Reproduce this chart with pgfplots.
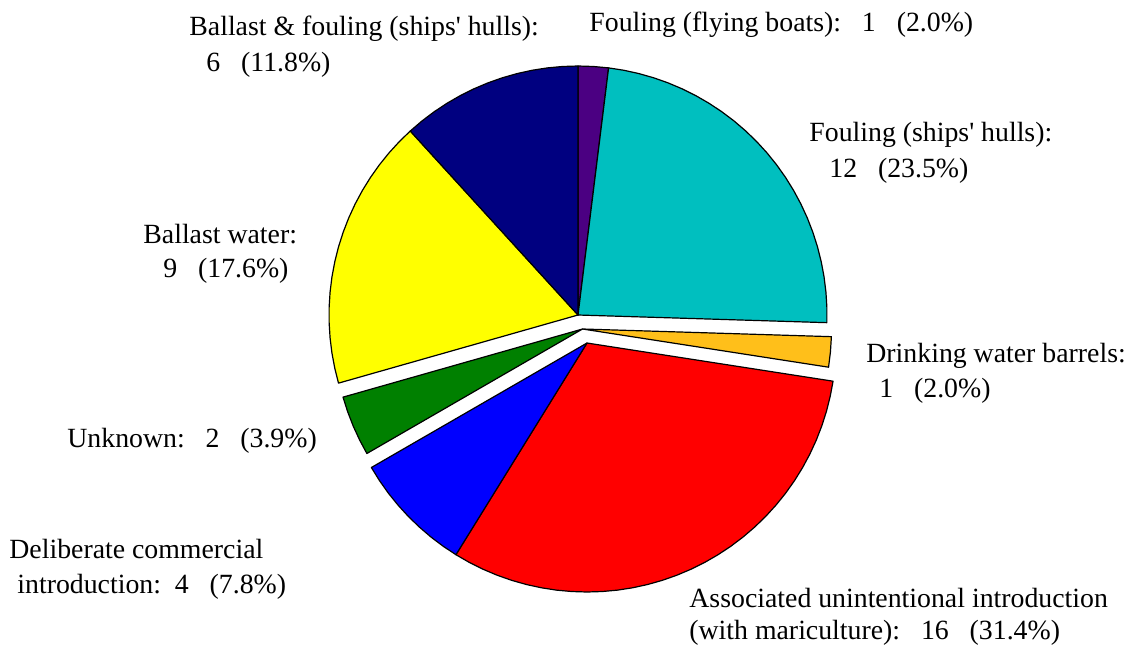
\documentclass[border=0pt]{standalone}
\usepackage{pgfplots}
\pgfplotsset{compat=1.18}
\usepackage{fontspec}
\setmainfont{Liberation Serif}
\definecolor{cPurple}{RGB}{75,0,130}
\definecolor{cCyan}{RGB}{0,191,191}
\definecolor{cOrange}{RGB}{255,191,26}
\definecolor{cRed}{RGB}{255,0,0}
\definecolor{cBlue}{RGB}{0,0,255}
\definecolor{cGreen}{RGB}{0,128,0}
\definecolor{cYellow}{RGB}{255,255,0}
\definecolor{cNavy}{RGB}{0,0,128}
% counts (clockwise from top)
\def\nA{1}  % Fouling (flying boats)
\def\nB{12} % Fouling (ships' hulls)
\def\nC{1}  % Drinking water barrels
\def\nD{16} % Associated unintentional introduction
\def\nE{4}  % Deliberate commercial introduction
\def\nF{2}  % Unknown
\def\nG{9}  % Ballast water
\def\nH{6}  % Ballast & fouling
\pgfmathsetmacro\tot{\nA+\nB+\nC+\nD+\nE+\nF+\nG+\nH}
\pgfmathsetmacro\aO{90}
\pgfmathsetmacro\aA{90-360*(\nA)/\tot}
\pgfmathsetmacro\aB{\aA-360*(\nB)/\tot}
\pgfmathsetmacro\aC{\aB-360*(\nC)/\tot}
\pgfmathsetmacro\aD{\aC-360*(\nD)/\tot}
\pgfmathsetmacro\aE{\aD-360*(\nE)/\tot}
\pgfmathsetmacro\aF{\aE-360*(\nF)/\tot}
\pgfmathsetmacro\aG{\aF-360*(\nG)/\tot}
\pgfmathsetmacro\aH{\aG-360*(\nH)/\tot}
% #1 low angle, #2 high angle, #3 colour, #4 cx, #5 cy, #6 samples
\newcommand\pieslice[6]{%
  \addplot[fill=#3, draw=black, line width=0.6bp, line join=round, domain=#1:#2, samples=#6, variable=\t]
    ({#4+249*cos(\t)},{#5-249*sin(\t)}) -- (axis cs:#4,#5) -- cycle;
}
\newcommand\lab[3]{\node[anchor=base west, inner sep=0pt, font=\fontsize{13.9bp}{16bp}\selectfont] at (axis cs:#1,#2) {#3};}
\newcommand\q{\textquotesingle}
\begin{document}
\begin{tikzpicture}
\begin{axis}[x=0.5bp, y=0.5bp, xmin=0, xmax=1128, ymin=0, ymax=645,
  y dir=reverse, hide axis, clip=false, scale only axis]
\pieslice{\aA}{\aO}{cPurple}{578}{315}{3}
\pieslice{\aB}{\aA}{cCyan}{578}{315}{25}
\pieslice{\aC}{\aB}{cOrange}{582.5}{329}{3}
\pieslice{\aD}{\aC}{cRed}{587}{343}{33}
\pieslice{\aE}{\aD}{cBlue}{587}{343}{9}
\pieslice{\aF}{\aE}{cGreen}{582.5}{329}{5}
\pieslice{\aG}{\aF}{cYellow}{578}{315}{19}
\pieslice{\aH}{\aG}{cNavy}{578}{315}{13}
\lab{589}{32}{Fouling (flying boats):\ \ \ 1\ \ \ (2.0\%)}
\lab{189}{36}{Ballast \& fouling (ships\q\ hulls):}
\lab{206}{72}{6\ \ \ (11.8\%)}
\lab{809}{141}{Fouling (ships\q\ hulls):}
\lab{829}{177}{12\ \ \ (23.5\%)}
\lab{143}{243}{Ballast water:}
\lab{163}{277}{9\ \ \ (17.6\%)}
\lab{866}{362}{Drinking water barrels:}
\lab{879}{397}{1\ \ \ (2.0\%)}
\lab{67}{447}{Unknown:\ \ \ 2\ \ \ (3.9\%)}
\lab{9}{558}{Deliberate commercial}
\lab{17}{593}{introduction:\ \ 4\ \ \ (7.8\%)}
\lab{689}{607}{Associated unintentional introduction}
\lab{689}{639}{(with mariculture):\ \ \ 16\ \ \ (31.4\%)}
\end{axis}
\pgfresetboundingbox
\path (current axis.south west) rectangle (current axis.north east);
\end{tikzpicture}
\end{document}
